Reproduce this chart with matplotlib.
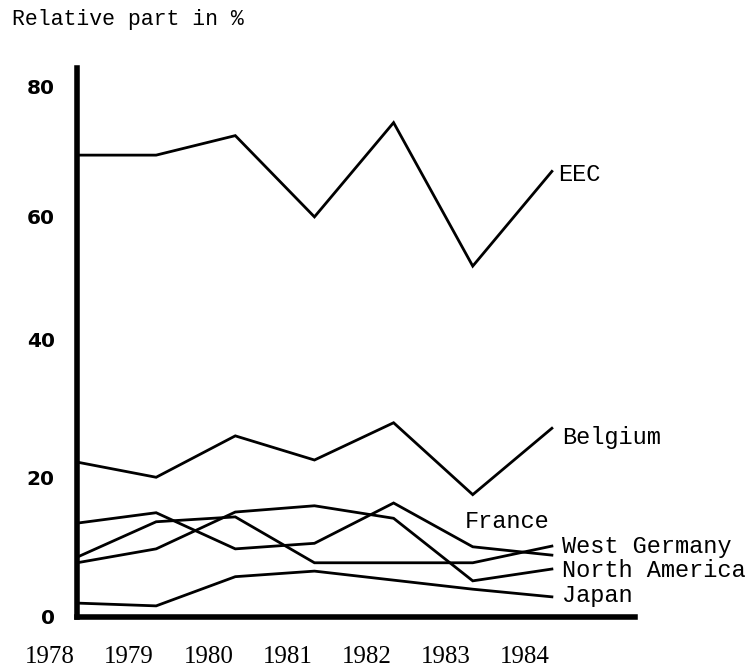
import numpy as np
import matplotlib.pyplot as plt
import matplotlib.transforms as mtransforms

years = [1978, 1979, 1980, 1981, 1982, 1983, 1984]
eec = [69.5, 69.5, 72.5, 60.0, 74.5, 52.0, 67.0]
belgium = [22.3, 20.1, 26.1, 22.6, 28.0, 17.6, 27.2]
france = [13.5, 15.0, 9.8, 10.6, 16.4, 10.1, 8.9]
west_germany = [8.6, 13.7, 14.4, 7.8, 7.8, 7.8, 10.2]
north_america = [7.8, 9.8, 15.1, 16.0, 14.2, 5.2, 6.9]
japan = [2.0, 1.6, 5.8, 6.6, 5.3, 4.0, 2.9]
yticks = [0, 20, 40, 60, 80]

# hand drawn axis in the original: the 20-steps are not all the same height
scale_vals = [0, 20, 40, 60, 80, 100]
scale_pos = [0, 139, 277, 400, 530, 660]


def forward(v):
    return np.interp(v, scale_vals, scale_pos)


def inverse(h):
    return np.interp(h, scale_pos, scale_vals)


fig = plt.figure(figsize=(7.48, 6.67), dpi=100)
ax = fig.add_axes([77 / 748, 50 / 667, (635 - 77) / 748, 549 / 667])

series = [
    (eec, "EEC", (6, -10)),
    (belgium, "Belgium", (10, -16)),
    (france, "France", (-87, 27)),
    (west_germany, "West Germany", (10, -7)),
    (north_america, "North America", (10, -8)),
    (japan, "Japan", (10, -5)),
]

for vals, name, off in series:
    ax.plot(years, vals, color="black", lw=2, solid_joinstyle="miter")
    ax.annotate(name, xy=(years[-1], vals[-1]), xytext=off,
                textcoords="offset pixels", ha="left", va="baseline",
                family="Liberation Mono", fontsize=17, color="black")

ax.set_yscale("function", functions=(forward, inverse))
ax.set_ylim(0, 82.9)
ax.set_xlim(1978, 1985.05)

ax.set_yticks(yticks)
ax.set_yticklabels([str(t) for t in yticks], family="DejaVu Sans",
                   fontweight="bold", fontsize=14.5)
ax.set_xticks(years)
ax.set_xticklabels([str(y) for y in years], family="Liberation Serif",
                   fontsize=18)
ax.tick_params(axis="y", length=0, pad=16)
ax.tick_params(axis="x", length=0, pad=21)

# year labels sit to the left of their points in the original
shift = mtransforms.ScaledTranslation(-0.27, 0, fig.dpi_scale_trans)
for lab in ax.get_xticklabels():
    lab.set_transform(lab.get_transform() + shift)

for side in ["top", "right"]:
    ax.spines[side].set_visible(False)
for side in ["left", "bottom"]:
    ax.spines[side].set_linewidth(4)

fig.text(12 / 748, 1 - 20 / 667, "Relative part in %", ha="left",
         va="center", family="Liberation Mono", fontsize=15.5)

fig.savefig("out.png", dpi=100)
